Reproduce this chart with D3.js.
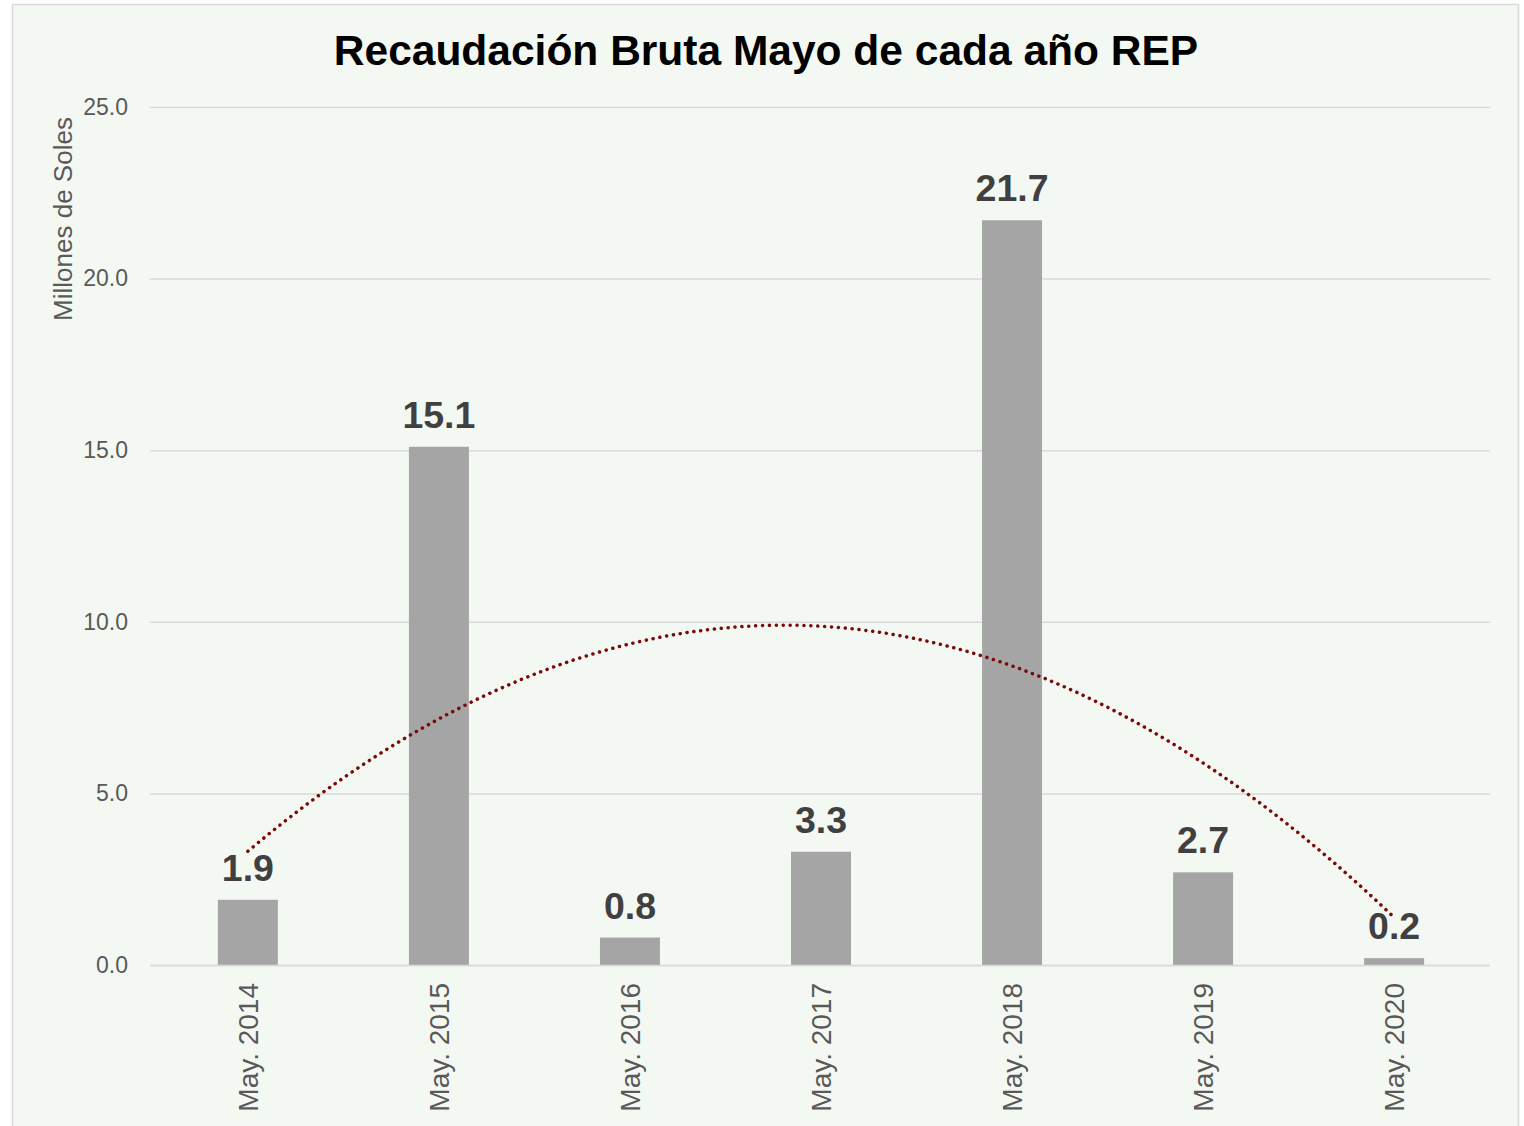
<!DOCTYPE html>
<html>
<head>
<meta charset="utf-8">
<script src="https://cdn.jsdelivr.net/npm/d3@7"></script>
<style>
	body { margin: 0; background: #fff; }
	svg { display: block; font-family: "Liberation Sans", Arial, sans-serif; }
</style>
</head>
<body>
<div id="chart"></div>
<script>
/* values */
const categories = ["May. 2014", "May. 2015", "May. 2016", "May. 2017", "May. 2018", "May. 2019", "May. 2020"];
const values = [1.9, 15.1, 0.8, 3.3, 21.7, 2.7, 0.2];
const yTicks = [0, 5, 10, 15, 20, 25];

const title = "Recaudación Bruta Mayo de cada año REP";
const yLabel = "Millones de Soles";

const width = 1524, height = 1126;
const margin = { top: 107, right: 34, bottom: 161, left: 150 };

const svg = d3.select("#chart")
	.append("svg")
	.attr("width", width)
	.attr("height", height);

/* chart area background and border */
svg.append("rect")
	.attr("x", 12.5).attr("y", 4.5)
	.attr("width", 1506).attr("height", 1130)
	.attr("fill", "#f4f8f2")
	.attr("stroke", "#d9d9d9")
	.attr("stroke-width", 1.5);

const x = d3.scaleBand()
	.domain(categories)
	.range([margin.left + 1, width - margin.right + 1])
	.paddingInner(0.686)
	.paddingOuter(0.35);

const y = d3.scaleLinear()
	.domain([0, 25])
	.range([height - margin.bottom, margin.top]);

/* gridlines */
svg.append("g")
	.attr("class", "grid")
	.selectAll("line")
	.data(yTicks)
	.join("line")
	.attr("x1", margin.left)
	.attr("x2", width - margin.right)
	.attr("y1", d => y(d) + 0.5)
	.attr("y2", d => y(d) + 0.5)
	.attr("stroke", "#d9d9d9")
	.attr("stroke-width", 1.5);

/* y axis tick labels */
const yAxis = svg.append("g")
	.attr("transform", `translate(${margin.left - 19},0)`)
	.call(d3.axisLeft(y).tickValues(yTicks).tickFormat(d3.format(".1f")).tickSize(0));
yAxis.select(".domain").remove();
yAxis.selectAll("text")
	.attr("font-size", 23)
	.attr("font-family", "Liberation Sans, Arial, sans-serif")
	.attr("fill", "#595959");

/* y axis title */
svg.append("text")
	.attr("transform", `translate(72,219) rotate(-90)`)
	.attr("text-anchor", "middle")
	.attr("font-size", 26)
	.attr("fill", "#595959")
	.text(yLabel);

/* bars */
svg.append("g")
	.selectAll("rect")
	.data(values)
	.join("rect")
	.attr("x", (d, i) => x(categories[i]))
	.attr("y", d => y(d))
	.attr("width", x.bandwidth())
	.attr("height", d => y(0) - y(d))
	.attr("fill", "#a5a5a5");

/* x axis baseline */
svg.append("line")
	.attr("x1", margin.left)
	.attr("x2", width - margin.right)
	.attr("y1", y(0) + 0.5)
	.attr("y2", y(0) + 0.5)
	.attr("stroke", "#d9d9d9")
	.attr("stroke-width", 1.5);

/* category labels, rotated */
svg.append("g")
	.selectAll("text")
	.data(categories)
	.join("text")
	.attr("transform", d => `translate(${x(d) + x.bandwidth() / 2 + 10},${y(0) + 18}) rotate(-90)`)
	.attr("text-anchor", "end")
	.attr("font-size", 28)
	.attr("fill", "#595959")
	.text(d => d);

/* polynomial (order 2) trendline, least squares fit on the bar values */
function quadFit(ys) {
	const xs = ys.map((d, i) => i);
	let s = [0, 0, 0, 0, 0], t = [0, 0, 0];
	xs.forEach((xi, i) => {
		for (let k = 0; k < 5; k++) s[k] += Math.pow(xi, k);
		for (let k = 0; k < 3; k++) t[k] += Math.pow(xi, k) * ys[i];
	});
	const M = [[s[0], s[1], s[2], t[0]], [s[1], s[2], s[3], t[1]], [s[2], s[3], s[4], t[2]]];
	for (let c = 0; c < 3; c++) {
		for (let r = c + 1; r < 3; r++) {
			const f = M[r][c] / M[c][c];
			for (let k = c; k < 4; k++) M[r][k] -= f * M[c][k];
		}
	}
	const coef = [0, 0, 0];
	for (let r = 2; r >= 0; r--) {
		let v = M[r][3];
		for (let k = r + 1; k < 3; k++) v -= M[r][k] * coef[k];
		coef[r] = v / M[r][r];
	}
	return xv => coef[0] + coef[1] * xv + coef[2] * xv * xv;
}
const trend = quadFit(values);
const step = x.step();
const xIndex = i => x(categories[0]) + x.bandwidth() / 2 + i * step;
const trendPts = d3.range(0, categories.length - 1 + 1e-9, 0.05).map(i => [xIndex(i), y(trend(i))]);

svg.append("path")
	.datum(trendPts)
	.attr("d", d3.line())
	.attr("fill", "none")
	.attr("stroke", "#7b0a0a")
	.attr("stroke-width", 3.5)
	.attr("stroke-linecap", "round")
	.attr("stroke-dasharray", "0.1 6.8");

/* data labels */
svg.append("g")
	.selectAll("text")
	.data(values)
	.join("text")
	.attr("x", (d, i) => x(categories[i]) + x.bandwidth() / 2)
	.attr("y", d => y(d) - 19)
	.attr("text-anchor", "middle")
	.attr("font-size", 37.5)
	.attr("font-weight", "bold")
	.attr("fill", "#404040")
	.text(d => d3.format(".1f")(d));

/* title */
svg.append("text")
	.attr("x", 766)
	.attr("y", 65)
	.attr("text-anchor", "middle")
	.attr("font-size", 42.5)
	.attr("font-weight", "bold")
	.attr("fill", "#000")
	.text(title);
</script>
</body>
</html>
